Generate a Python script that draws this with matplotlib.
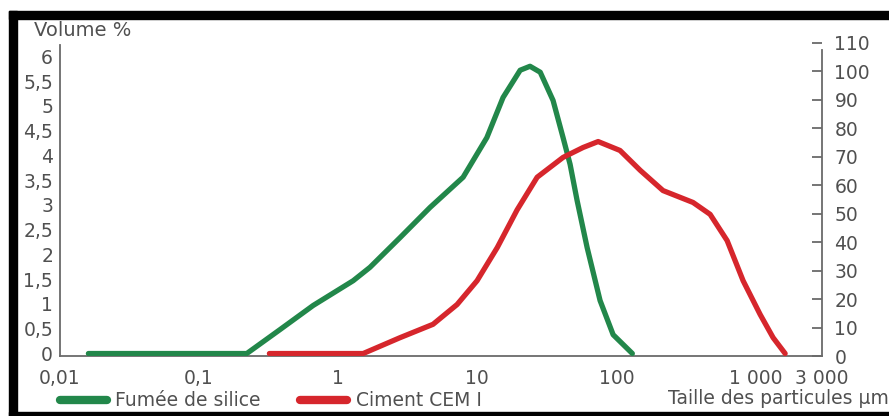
import matplotlib
matplotlib.use("Agg")
import matplotlib.pyplot as plt
from matplotlib.lines import Line2D
from matplotlib.patches import Rectangle
from matplotlib.ticker import FixedLocator, NullLocator

# Particle size distributions (size in µm, volume %)
silica_size = [0.016, 0.22, 0.38, 0.66, 1.28, 1.69, 2.78, 4.57, 7.9, 11.7, 15.3,
               20.3, 23.9, 28.3, 35.0, 41.3, 46.4, 52.1, 61.5, 76.2, 94.6, 130]
silica_vol = [0, 0, 0.48, 0.97, 1.47, 1.74, 2.34, 2.95, 3.56, 4.36, 5.17,
              5.72, 5.80, 5.68, 5.11, 4.36, 3.82, 3.09, 2.14, 1.07, 0.38, 0]

cement_size = [0.32, 1.51, 2.78, 4.8, 7.15, 9.95, 13.9, 19.3, 26.9, 41.3, 57.5,
               73.8, 106, 148, 216, 355, 471, 624, 813, 1077, 1336, 1630]
cement_vol = [0, 0, 0.32, 0.59, 0.99, 1.47, 2.14, 2.9, 3.56, 3.96, 4.16,
              4.28, 4.10, 3.70, 3.29, 3.05, 2.81, 2.28, 1.47, 0.79, 0.32, 0]

x_ticks = [0.01, 0.1, 1, 10, 100, 1000, 3000]
x_labels = ["0,01", "0,1", "1", "10", "100", "1 000", "3 000"]
left_ticks = [0, 0.5, 1, 1.5, 2, 2.5, 3, 3.5, 4, 4.5, 5, 5.5, 6]
left_labels = ["0", "0,5", "1", "1,5", "2", "2,5", "3", "3,5", "4", "4,5", "5", "5,5", "6"]
right_ticks = list(range(0, 111, 10))

GREEN = "#22874a"
RED = "#d6262c"
TEXT = "#505050"
AXIS = "#6a6a6a"
FS = 13.5

plt.rcParams["font.family"] = ["DejaVu Sans"]

W, H = 889, 416
fig = plt.figure(figsize=(W / 100, H / 100), dpi=100)
fig.patch.set_facecolor("white")

ax = fig.add_axes([60 / W, 60 / H, 762 / W, 314 / H])
ax.set_xscale("log")
ax.set_xlim(0.01, 3000)
ax.set_ylim(-0.05, 6.29)

ax.plot(silica_size, silica_vol, color=GREEN, lw=3.8,
        solid_joinstyle="round", solid_capstyle="round", zorder=3)
ax.plot(cement_size, cement_vol, color=RED, lw=3.8,
        solid_joinstyle="round", solid_capstyle="round", zorder=3)

for s in ["top", "right"]:
    ax.spines[s].set_visible(False)
for s in ["left", "bottom"]:
    ax.spines[s].set_color(AXIS)
    ax.spines[s].set_linewidth(1.3)
ax.spines["left"].set_bounds(-0.05, 6.22)

ax.xaxis.set_major_locator(FixedLocator(x_ticks))
ax.xaxis.set_minor_locator(NullLocator())
ax.set_xticklabels(x_labels)
ax.tick_params(axis="x", length=0, pad=9, labelsize=FS, labelcolor=TEXT)

ax.set_yticks(left_ticks)
ax.set_yticklabels(left_labels)
ax.tick_params(axis="y", length=0, pad=5, labelsize=FS, labelcolor=TEXT)

# Secondary scale on the right
ax2 = ax.twinx()
ax2.set_ylim(0, 110.2)
ax2.set_yticks(right_ticks)
for s in ["top", "left", "bottom"]:
    ax2.spines[s].set_visible(False)
ax2.spines["right"].set_color(AXIS)
ax2.spines["right"].set_linewidth(1.3)
ax2.spines["right"].set_bounds(0, 107.5)
ax2.tick_params(axis="y", direction="in", length=7, width=1.3, color=AXIS,
                pad=9, labelsize=FS, labelcolor=TEXT)

fig.text(34 / W, 1 - 30 / H, "Volume %", fontsize=14, color=TEXT,
         ha="left", va="center")
fig.text(889 / W, 1 - 399 / H, "Taille des particules µm", fontsize=FS,
         color=TEXT, ha="right", va="center")

handles = [Line2D([], [], color=GREEN, lw=6, solid_capstyle="round"),
           Line2D([], [], color=RED, lw=6, solid_capstyle="round")]
fig.legend(handles, ["Fumée de silice", "Ciment CEM I"], ncol=2,
           loc="center left", bbox_to_anchor=(60 / W, 1 - 401 / H),
           frameon=False, fontsize=FS, handlelength=2.5, handletextpad=0.45,
           columnspacing=2.1, borderpad=0, borderaxespad=0, labelcolor=TEXT)

# Black frame around the figure
fig.add_artist(Rectangle((9 / W, 0), 8 / W, (H - 11) / H,
                         transform=fig.transFigure, color="black", zorder=10))
fig.add_artist(Rectangle((9 / W, 1 - 19 / H), (W - 9) / W, 8 / H,
                         transform=fig.transFigure, color="black", zorder=10))
fig.add_artist(Rectangle((9 / W, 0), (W - 9) / W, 4 / H,
                         transform=fig.transFigure, color="black", zorder=10))

fig.savefig("out.png", dpi=100)
